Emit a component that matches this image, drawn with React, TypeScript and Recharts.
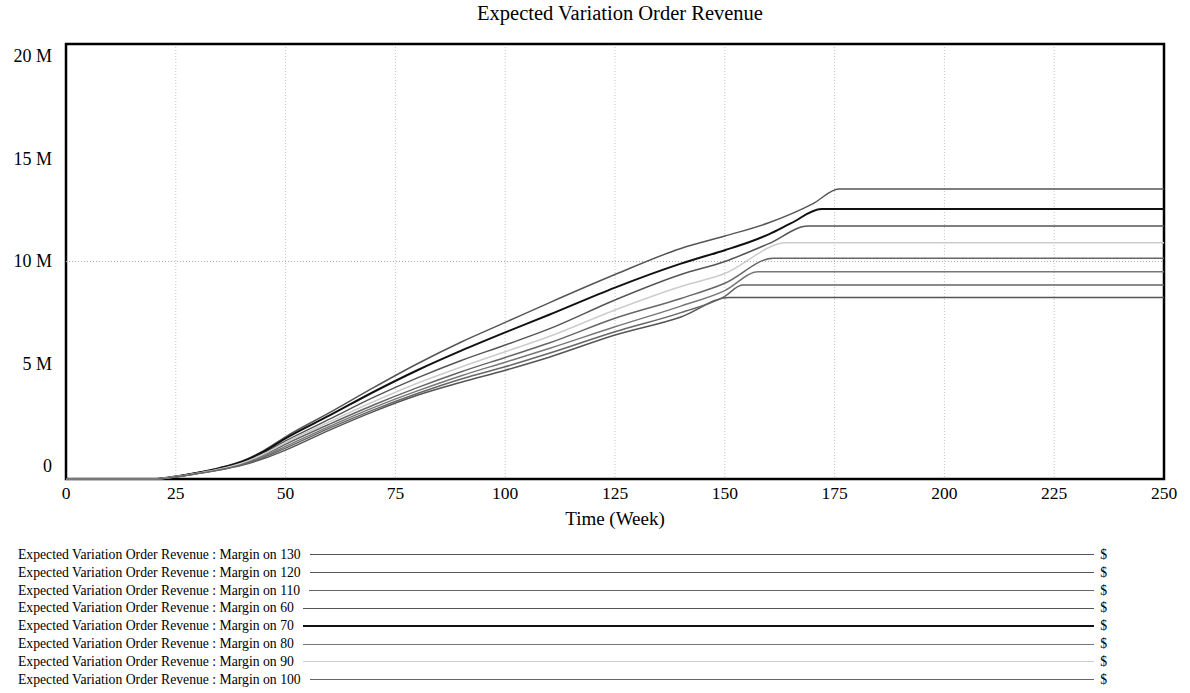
import React from "react";
import { CartesianGrid, Line, LineChart, ReferenceArea, ReferenceLine, XAxis, YAxis } from "recharts";

// weeks and revenue (millions $), one pair per run
const weeksM130 = [0, 20, 25, 30, 35, 40, 45, 50, 60, 70, 80, 90, 100, 110, 125, 140, 150, 160, 170, 176, 250];
const revM130 = [0, 0, 0.12, 0.3, 0.52, 0.82, 1.3, 1.94, 3.05, 4.2, 5.3, 6.3, 7.2, 8.1, 9.4, 10.6, 11.17, 11.78, 12.65, 13.33, 13.33];

const weeksM70 = [0, 20, 25, 30, 35, 40, 45, 50, 60, 70, 80, 90, 100, 110, 125, 140, 150, 155, 160, 165, 172, 250];
const revM70 = [0, 0, 0.12, 0.29, 0.5, 0.79, 1.26, 1.87, 2.92, 4.0, 5.0, 5.9, 6.74, 7.55, 8.8, 9.9, 10.52, 10.85, 11.25, 11.75, 12.41, 12.41];

const weeksM120 = [0, 20, 25, 30, 35, 40, 45, 50, 60, 70, 80, 90, 100, 110, 125, 140, 150, 160, 169, 250];
const revM120 = [0, 0, 0.11, 0.28, 0.48, 0.76, 1.2, 1.75, 2.75, 3.75, 4.65, 5.45, 6.16, 6.9, 8.23, 9.4, 10.0, 10.82, 11.63, 11.63];

const weeksM90 = [0, 20, 25, 30, 35, 40, 45, 50, 60, 70, 80, 90, 100, 110, 125, 140, 150, 164, 250];
const revM90 = [0, 0, 0.11, 0.27, 0.46, 0.73, 1.15, 1.68, 2.63, 3.55, 4.4, 5.15, 5.85, 6.55, 7.77, 8.85, 9.45, 10.86, 10.86];

const weeksM110 = [0, 20, 25, 30, 35, 40, 45, 50, 60, 70, 80, 90, 100, 110, 125, 140, 150, 161, 250];
const revM110 = [0, 0, 0.11, 0.27, 0.45, 0.7, 1.1, 1.6, 2.52, 3.4, 4.2, 4.93, 5.59, 6.25, 7.39, 8.3, 9.0, 10.15, 10.15];

const weeksM80 = [0, 20, 25, 30, 35, 40, 45, 50, 60, 70, 80, 90, 100, 110, 125, 140, 150, 157.6, 250];
const revM80 = [0, 0, 0.1, 0.26, 0.44, 0.67, 1.04, 1.5, 2.42, 3.28, 4.05, 4.75, 5.37, 6.0, 7.0, 7.95, 8.66, 9.53, 9.53];

const weeksM100 = [0, 20, 25, 30, 35, 40, 45, 50, 60, 70, 80, 90, 100, 110, 125, 140, 150, 154, 250];
const revM100 = [0, 0, 0.1, 0.25, 0.43, 0.65, 0.99, 1.42, 2.34, 3.18, 3.93, 4.6, 5.16, 5.78, 6.77, 7.65, 8.4, 8.92, 8.92];

const weeksM60 = [0, 20, 25, 30, 35, 40, 45, 50, 60, 70, 80, 90, 100, 110, 125, 140, 151, 250];
const revM60 = [0, 0, 0.1, 0.25, 0.42, 0.63, 0.94, 1.33, 2.25, 3.1, 3.85, 4.45, 5.0, 5.6, 6.62, 7.45, 8.35, 8.35];

const xTicks = [0, 25, 50, 75, 100, 125, 150, 175, 200, 225, 250];
const yTicks = [0, 5, 10, 15, 20];

const TITLE = "Expected Variation Order Revenue";
const X_LABEL = "Time (Week)";
const SERIF = "'Liberation Serif', 'Times New Roman', serif";

const toRows = (weeks: number[], rev: number[]) => weeks.map((t, i) => ({ t, v: rev[i] }));

// legend order as in the original
const series = [
  { name: "Margin on 130", rows: toRows(weeksM130, revM130), color: "#555", width: 1.5 },
  { name: "Margin on 120", rows: toRows(weeksM120, revM120), color: "#555", width: 1.5 },
  { name: "Margin on 110", rows: toRows(weeksM110, revM110), color: "#666", width: 1.5 },
  { name: "Margin on 60", rows: toRows(weeksM60, revM60), color: "#555", width: 1.5 },
  { name: "Margin on 70", rows: toRows(weeksM70, revM70), color: "#111", width: 2 },
  { name: "Margin on 80", rows: toRows(weeksM80, revM80), color: "#777", width: 1.5 },
  { name: "Margin on 90", rows: toRows(weeksM90, revM90), color: "#ccc", width: 1.5 },
  { name: "Margin on 100", rows: toRows(weeksM100, revM100), color: "#666", width: 1.5 },
];

const PLOT_TOP = 44;
const PLOT_BOTTOM = 479;

function YTick(props: any) {
  const { y, payload } = props;
  // labels are squeezed inside the frame like the original
  const yy = 56 + (y - PLOT_TOP) * (410 / (PLOT_BOTTOM - PLOT_TOP));
  const label = payload.value === 0 ? "0" : `${payload.value} M`;
  return (
    <text x={52} y={yy} dy="0.35em" textAnchor="end" fill="#000" fontSize={18} fontFamily={SERIF}>
      {label}
    </text>
  );
}

export default function App() {
  return (
    <div style={{ position: "absolute", left: 0, top: 0, width: 1190, height: 693, background: "#fff", fontFamily: SERIF }}>
      <div style={{ position: "absolute", left: 0, width: 1240, top: 2, textAlign: "center", fontSize: 20.5 }}>{TITLE}</div>

      <LineChart width={1190} height={520} margin={{ top: PLOT_TOP, right: 26, left: 6, bottom: 520 - PLOT_BOTTOM - 30 }}>
        <CartesianGrid stroke="#c4c4c4" strokeDasharray="1 2" horizontal={false} />
        <ReferenceLine y={10} stroke="#aaa" strokeDasharray="1 2" />
        <XAxis
          type="number"
          dataKey="t"
          domain={[0, 250]}
          ticks={xTicks}
          height={30}
          tickLine={false}
          axisLine={false}
          tick={{ fill: "#000", fontSize: 17.5, fontFamily: SERIF }}
          allowDuplicatedCategory={false}
        />
        <YAxis type="number" domain={[0, 20]} ticks={yTicks} width={60} tickLine={false} axisLine={false} tick={<YTick />} />
        {series.map((s) => (
          <Line
            key={s.name}
            data={s.rows}
            dataKey="v"
            type="monotone"
            stroke={s.color}
            strokeWidth={s.width}
            dot={false}
            isAnimationActive={false}
          />
        ))}
        <ReferenceArea x1={0} x2={250} y1={0} y2={20} fill="none" stroke="#000" strokeWidth={2.5} />
      </LineChart>

      <div style={{ position: "absolute", left: 0, width: 1230, top: 508, textAlign: "center", fontSize: 19 }}>{X_LABEL}</div>

      <div style={{ position: "absolute", left: 18, top: 546, width: 1089, fontSize: 13.7 }}>
        {series.map((s) => (
          <div key={s.name} style={{ display: "flex", alignItems: "center", height: 17.85, whiteSpace: "nowrap" }}>
            <span>{`${TITLE} : ${s.name}`}</span>
            <div style={{ flex: 1, marginLeft: 9, marginRight: 6, borderTop: `${s.width === 2 ? 2 : 1.5}px solid ${s.color}` }} />
            <span>$</span>
          </div>
        ))}
      </div>
    </div>
  );
}
